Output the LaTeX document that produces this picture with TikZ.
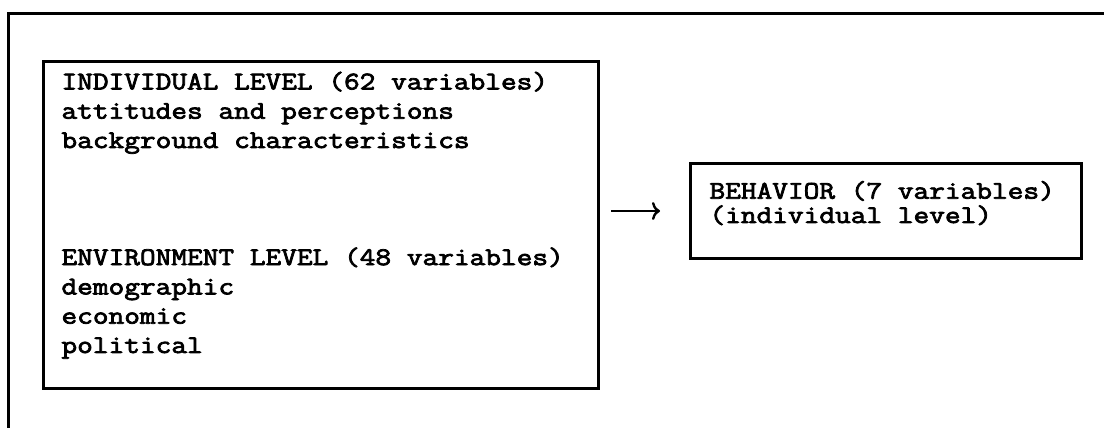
\documentclass[tikz,border=0pt]{standalone}
\usepackage{fontspec}
\newfontfamily\typewr{Latin Modern Mono}[FakeStretch=1.2,FakeBold=3]
\usetikzlibrary{arrows.meta, positioning}

\begin{document}
\begin{tikzpicture}[x=1pt, y=-1pt, line width=3pt,
			box/.style={draw, anchor=north west, inner sep=0pt},
			words/.style={font={\typewr\fontsize{25.4}{29.3}\selectfont\lineskiplimit=-30pt}, align=left, anchor=base west, inner sep=0pt}]
			\useasboundingbox (0,0) rectangle (1104,430);
			% frame round the figure, only top and left edge
			\draw (8,428) -- (8,14) -- (1104,14);
			% the two boxes
			\node[box, minimum width=555pt, minimum height=327pt] (levels) at (42,60) {};
			\node[box, minimum width=391pt, minimum height=95pt] (behavior) at (689,162) {};
			% texts, placed by the baseline of their last line
			\node[words] (indiv) at (60,148) {INDIVIDUAL LEVEL (62 variables)\\attitudes and perceptions\\background characteristics};
			\node[words] (envir) at (60,353) {ENVIRONMENT LEVEL (48 variables)\\demographic\\economic\\political};
			\node[words] (behav) at (708,223) {BEHAVIOR (7 variables)\\[-5pt](individual level)};
			\draw[-{To[length=8pt, width=18pt]}, line width=2.4pt, shorten <=11pt, shorten >=29pt] (levels.east |- behavior.west) -- (behavior.west);
\end{tikzpicture}
\end{document}
